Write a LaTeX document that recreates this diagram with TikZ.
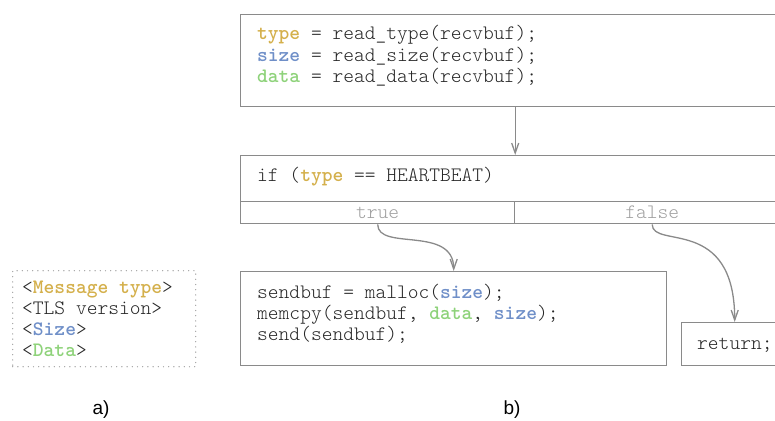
\documentclass[tikz,border=0pt]{standalone}
\usepackage{fontspec}
\setmainfont{Liberation Sans}
\setmonofont{lmmonolt10-regular.otf}[BoldFont=lmmonolt10-bold.otf]
\usetikzlibrary{arrows.meta}
\definecolor{kwtype}{HTML}{D4B04C}
\definecolor{kwsize}{HTML}{6F8FC8}
\definecolor{kwdata}{HTML}{8ED27A}
\definecolor{frame}{HTML}{8A8A8A}
\definecolor{branch}{HTML}{A0A0A0}
\definecolor{codeink}{HTML}{262626}
\newcommand{\kw}[2]{\textcolor{#1}{\textbf{#2}}}
\tikzset{
  box/.style={draw=frame, line width=1.4pt, rectangle, inner sep=0pt, anchor=north west},
  msgbox/.style={draw=frame!80, line width=1.4pt, line cap=round, dash pattern=on 0pt off 5.2pt, rectangle, inner sep=0pt, anchor=north west},
  code/.style={font=\ttfamily\fontsize{20.5}{21}\selectfont, text=codeink, anchor=base west, inner sep=0pt},
  cell/.style={draw=frame, line width=1.4pt, rectangle, inner sep=0pt, anchor=north west,
    font=\ttfamily\fontsize{20.5}{21}\selectfont, text=branch},
  flow/.style={draw=frame, line width=1.3pt, -{Straight Barb[length=10pt,width=7pt]}},
  caption/.style={font=\fontsize{19}{22}\selectfont, anchor=base, inner sep=0pt}
}
\begin{document}
\begin{tikzpicture}[x=1pt,y=-1pt]
\useasboundingbox (0,0) rectangle (775,420);

% a) message layout
\node[msgbox, minimum width=183pt, minimum height=96pt] (msg) at (12,270) {};
\node[code] (m1) at (22,293) {<\kw{kwtype}{Message type}>};
\node[code] (m2) at (22,314) {<TLS version>};
\node[code] (m3) at (22,335) {<\kw{kwsize}{Size}>};
\node[code] (m4) at (22,356) {<\kw{kwdata}{Data}>};
\node[caption] (la) at (101,414) {a)};

% b) control flow
\node[box, minimum width=549pt, minimum height=92pt] (read) at (240,14) {};
\node[code] (r1) at (257,40) {\kw{kwtype}{type} = read\_type(recvbuf);};
\node[code] (r2) at (257,61) {\kw{kwsize}{size} = read\_size(recvbuf);};
\node[code] (r3) at (257,82) {\kw{kwdata}{data} = read\_data(recvbuf);};

\node[box, minimum width=549pt, minimum height=46pt] (cond) at (240,155) {};
\node[code] (c1) at (257,181) {if (\kw{kwtype}{type} == HEARTBEAT)};
\node[cell, minimum width=274pt, minimum height=22pt] (tcell) at (240,201) {true};
\node[cell, minimum width=275pt, minimum height=22pt] (fcell) at (514,201) {false};

\node[box, minimum width=426pt, minimum height=94pt] (send) at (240,271) {};
\node[code] (s1) at (257,298) {sendbuf = malloc(\kw{kwsize}{size});};
\node[code] (s2) at (257,319) {memcpy(sendbuf, \kw{kwdata}{data}, \kw{kwsize}{size});};
\node[code] (s3) at (257,340) {send(sendbuf);};

\node[box, minimum width=106pt, minimum height=43pt] (ret) at (681,322) {};
\node[code] (e1) at (697,349) {return;};

\node[caption] (lb) at (512,414) {b)};

\draw[flow] (read.south) -- (cond.north);
\draw[flow] (tcell.south) .. controls +(0,27) and +(0,-46) .. (send.north);
\draw[flow] (fcell.south) .. controls +(0,25) and +(0,-107) .. (ret.north);
\end{tikzpicture}
\end{document}
